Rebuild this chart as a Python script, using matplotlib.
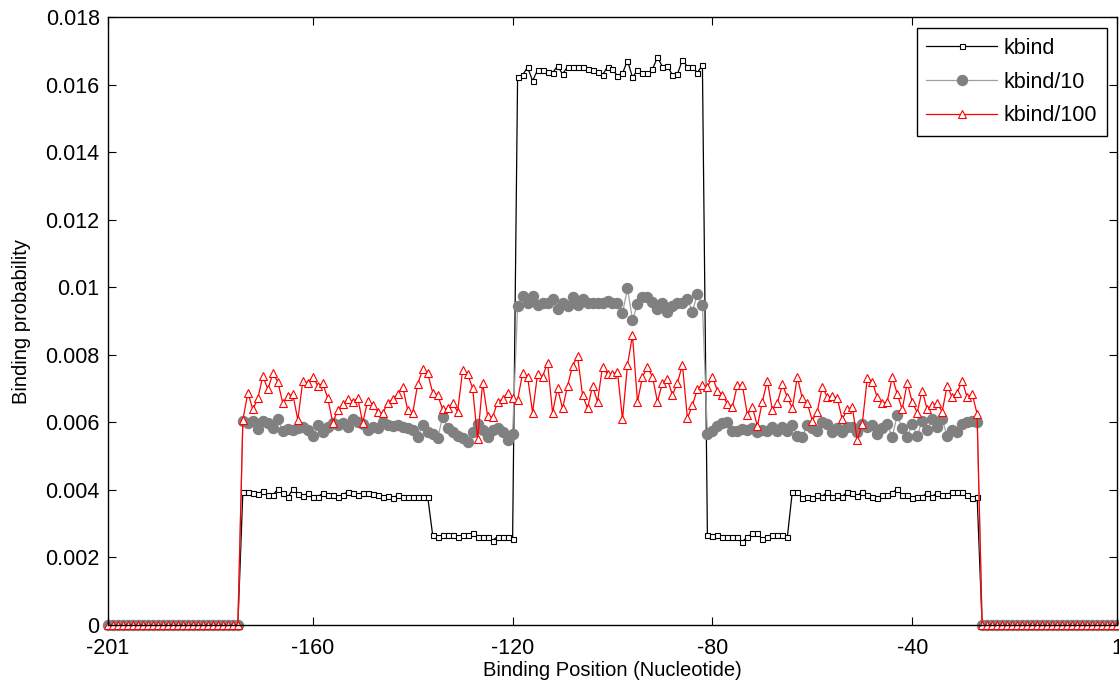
import numpy as np
import matplotlib
matplotlib.use("Agg")
import matplotlib.pyplot as plt

plt.rcParams["font.family"] = ["Liberation Sans", "DejaVu Sans"]

# binding positions, one per nucleotide
positions = np.arange(-201, 2)

# flat zero stretches either side of the bound window
zeros_left = [0.0] * 27    # -201 .. -175
zeros_right = [0.0] * 28   # -26 .. 1

# values in units of 1e-3, positions -174 .. -27
kbind_mid = [
    3.95, 3.95, 3.92, 3.88, 3.97, 3.85, 3.85, 4.02, 3.90, 3.78, 4.02, 3.88, 3.82,
    3.90, 3.78, 3.80, 3.90, 3.85, 3.85, 3.80, 3.85, 3.95, 3.90, 3.85, 3.92, 3.90,
    3.88, 3.85, 3.80, 3.82, 3.75, 3.85, 3.80, 3.80, 3.80, 3.80, 3.80, 3.80,
    2.66, 2.60, 2.66, 2.66, 2.66, 2.62, 2.66, 2.66, 2.71, 2.62, 2.60, 2.60, 2.50,
    2.62, 2.62, 2.62, 2.54,
    16.21, 16.28, 16.51, 16.11, 16.43, 16.43, 16.38, 16.35, 16.55, 16.31, 16.53,
    16.53, 16.53, 16.53, 16.45, 16.43, 16.38, 16.28, 16.53, 16.45, 16.25, 16.33,
    16.71, 16.21, 16.43, 16.35, 16.33, 16.45, 16.81, 16.53, 16.55, 16.28, 16.31,
    16.73, 16.53, 16.53, 16.35, 16.58,
    2.66, 2.64, 2.66, 2.62, 2.60, 2.60, 2.60, 2.47, 2.60, 2.71, 2.71, 2.54, 2.62,
    2.66, 2.66, 2.66, 2.60,
    3.95, 3.95, 3.75, 3.80, 3.75, 3.85, 3.80, 3.95, 3.80, 3.85, 3.80, 3.95, 3.92,
    3.82, 3.95, 3.85, 3.80, 3.75, 3.85, 3.85, 3.92, 4.02, 3.85, 3.85, 3.75, 3.80,
    3.80, 3.92, 3.80, 3.92, 3.85, 3.85, 3.95, 3.95, 3.95, 3.85, 3.75, 3.80,
]

kbind10_mid = [
    6.05, 5.97, 6.05, 5.79, 6.05, 5.97, 5.82, 6.09, 5.75, 5.79, 5.77, 5.82, 5.87,
    5.77, 5.60, 5.92, 5.72, 5.87, 5.99, 5.92, 5.97, 5.87, 6.09, 6.02, 5.95, 5.77,
    5.87, 5.82, 6.02,
    5.92, 5.89, 5.92, 5.87, 5.82, 5.77, 5.57, 5.92, 5.72, 5.65, 5.53, 6.17, 5.82,
    5.72, 5.60, 5.53, 5.43, 5.72, 5.95, 5.77, 5.57, 5.77, 5.82, 5.72, 5.48, 5.65,
    9.44, 9.74, 9.54, 9.74, 9.47, 9.52, 9.54, 9.64, 9.37, 9.54, 9.44, 9.70, 9.47,
    9.64, 9.54, 9.54, 9.54, 9.54, 9.60, 9.52, 9.52, 9.23, 9.97, 9.03, 9.50, 9.70,
    9.70, 9.57, 9.37, 9.54, 9.28, 9.44, 9.52, 9.54, 9.64, 9.28, 9.80, 9.47,
    5.65, 5.75, 5.89, 5.99, 6.02, 5.75, 5.75, 5.79, 5.77, 5.82, 5.72, 5.77, 5.75,
    5.87, 5.75, 5.87, 5.75, 5.92, 5.60, 5.57, 5.92, 5.82, 5.75, 6.02, 5.95, 5.72,
    5.82, 5.72, 5.87,
    5.87, 5.72, 5.95, 5.87, 5.92, 5.65, 5.82, 5.95, 5.56, 6.22, 5.82, 5.56, 5.95,
    5.60, 6.05, 5.77, 6.09, 5.87, 6.09, 5.60, 5.77, 5.72, 5.95, 6.02, 6.05, 6.02,
]

kbind100_mid = [
    6.07, 6.88, 6.38, 6.71, 7.37, 6.98, 7.45, 7.20, 6.56, 6.78, 6.84, 6.07, 7.23,
    7.17, 7.35, 7.08, 7.15, 6.71, 5.99, 6.36, 6.54, 6.68, 6.61, 6.71, 5.99, 6.64,
    6.51, 6.32, 6.27,
    6.58, 6.68, 6.84, 7.06, 6.36, 6.27, 7.13, 7.57, 7.45, 6.88, 6.81, 6.38, 6.41,
    6.56, 6.32, 7.55, 7.43, 7.01, 5.50, 7.17, 6.19, 6.15, 6.61, 6.68, 6.88, 6.71,
    6.66, 7.45, 7.35,
    6.29, 7.43, 7.35, 7.77, 6.29, 7.01, 6.41, 7.08, 7.67, 7.96, 6.81, 6.41, 7.08,
    6.61, 7.65, 7.43, 7.43, 7.50, 6.09, 7.70, 8.58, 6.61, 7.35, 7.63, 7.35, 6.61,
    7.17, 7.27, 6.81, 7.17, 7.70, 6.12, 6.51, 6.98, 7.10, 7.04,
    7.35, 6.94, 6.81, 6.54, 6.46, 7.10, 7.10, 6.22, 6.46, 5.89, 6.61, 7.23, 6.36,
    6.56, 7.13, 6.74, 6.41, 7.35, 6.71, 6.56, 6.05, 6.32, 7.06, 6.74, 6.78, 6.71,
    6.09, 6.38,
    6.46, 5.48, 5.95, 7.30, 7.20, 6.74, 6.56, 6.61, 7.35, 6.84, 6.38, 7.17, 6.61,
    6.29, 6.94, 6.38, 6.51, 6.56, 6.32, 7.08, 6.74, 6.88, 7.23, 6.74, 6.84, 6.25,
]

kbind = np.array(zeros_left + kbind_mid + zeros_right) * 1e-3
kbind10 = np.array(zeros_left + kbind10_mid + zeros_right) * 1e-3
kbind100 = np.array(zeros_left + kbind100_mid + zeros_right) * 1e-3

x_ticks = [-201, -160, -120, -80, -40, 1]
x_ticklabels = ["-201", "-160", "-120", "-80", "-40", "1"]
y_ticks = [0, 0.002, 0.004, 0.006, 0.008, 0.010, 0.012, 0.014, 0.016, 0.018]
y_ticklabels = ["0", "0.002", "0.004", "0.006", "0.008", "0.01",
                "0.012", "0.014", "0.016", "0.018"]

fig = plt.figure(figsize=(11.19, 6.88), dpi=100)
ax = fig.add_axes([108 / 1119, 63 / 688, 1009 / 1119, 608 / 688])

ax.plot(positions, kbind, color="black", lw=0.9, marker="s", ms=3.6,
        mfc="white", mec="black", mew=0.8, label="kbind", clip_on=False)
ax.plot(positions, kbind10, color="#a0a0a0", lw=0.9, marker="o", ms=7.2,
        mfc="#808080", mec="#808080", label="kbind/10", clip_on=False)
ax.plot(positions, kbind100, color="red", lw=0.9, marker="^", ms=6.2,
        mfc="white", mec="red", mew=0.8, label="kbind/100", clip_on=False)

ax.set_xlim(-201, 1)
ax.set_ylim(0, 0.018)
ax.set_xticks(x_ticks)
ax.set_xticklabels(x_ticklabels)
ax.set_yticks(y_ticks)
ax.set_yticklabels(y_ticklabels)
ax.tick_params(direction="in", length=6, width=0.8, labelsize=15.5,
               top=True, right=True, pad=6)
ax.tick_params(axis="x", pad=9)
for s in ax.spines.values():
    s.set_linewidth(1.0)

ax.set_xlabel("Binding Position (Nucleotide)", fontsize=14.5, labelpad=2)
ax.set_ylabel("Binding probability", fontsize=14.5, labelpad=10)

leg = ax.legend(loc="upper right", bbox_to_anchor=(0.990, 0.982),
                borderaxespad=0, fontsize=15.5, handlelength=3.3,
                handletextpad=0.3, labelspacing=0.6, fancybox=False,
                framealpha=1, edgecolor="black", borderpad=0.45)
leg.get_frame().set_linewidth(1.0)

fig.savefig("out.png", dpi=100)
